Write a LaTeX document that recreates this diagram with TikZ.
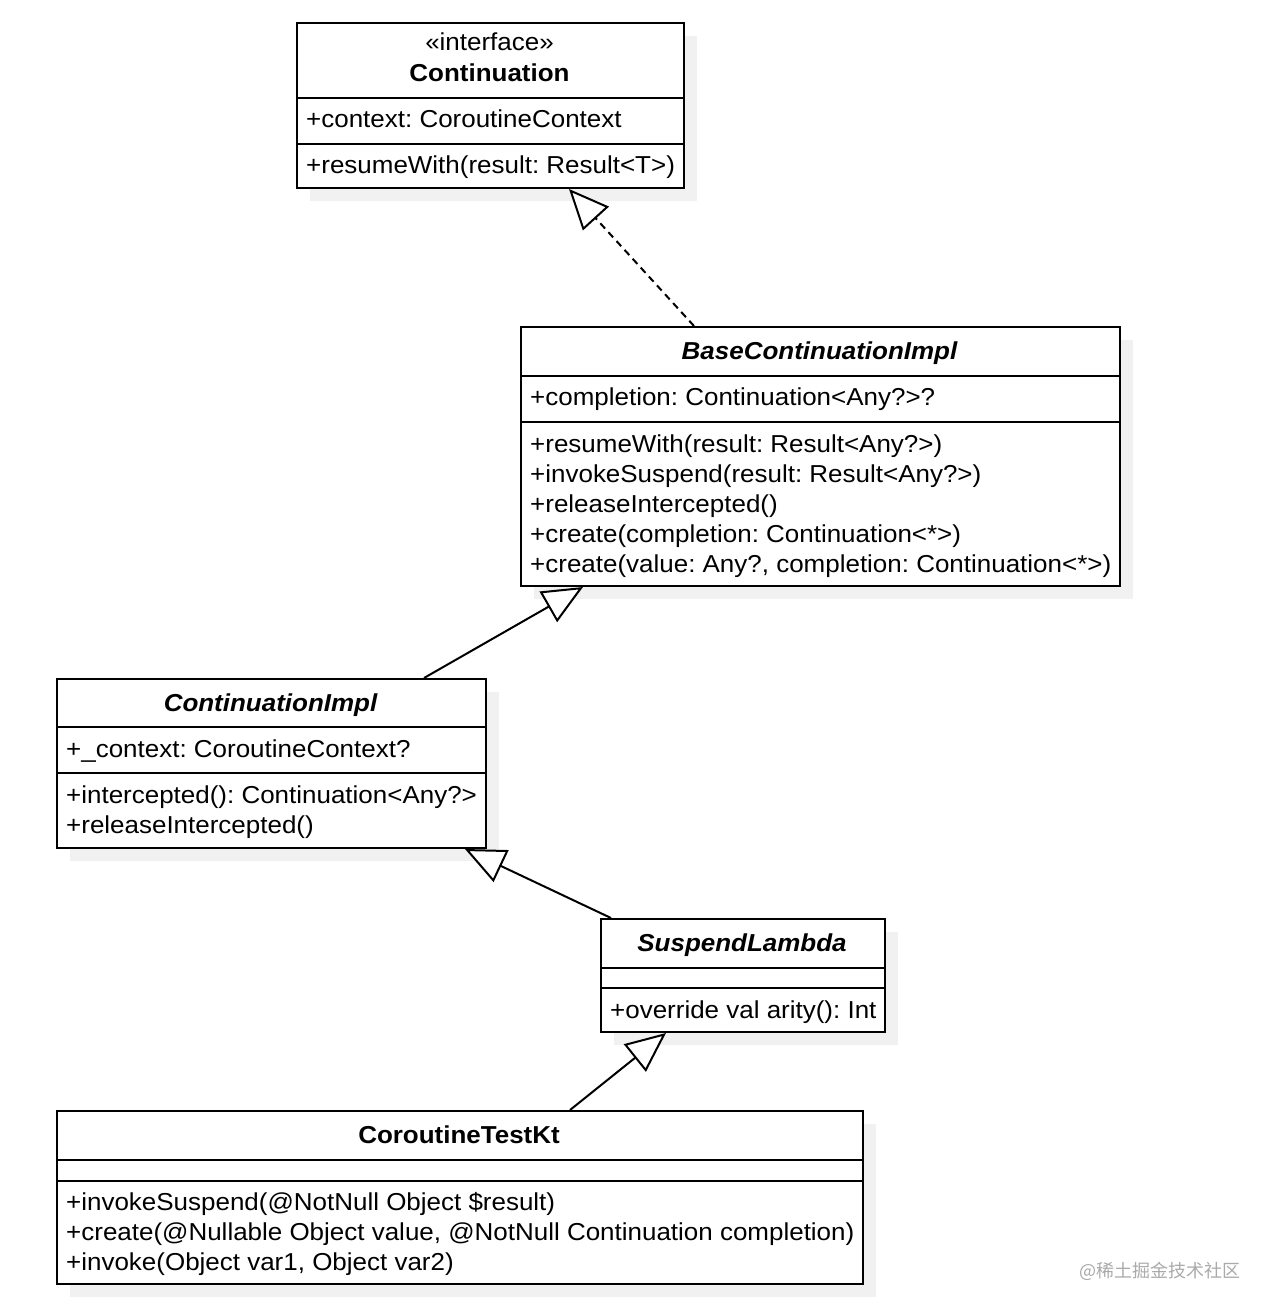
\documentclass[tikz,border=0pt]{standalone}
\usepackage{fontspec}
\setmainfont{Liberation Sans}[FakeStretch=1.06]
\newfontfamily\cjkfont{Noto Sans CJK SC}
\usetikzlibrary{arrows.meta}
\definecolor{shadowgray}{RGB}{241,241,241}
\definecolor{wmgray}{RGB}{170,170,170}
\frenchspacing
\begin{document}
\begin{tikzpicture}[x=1pt,y=-1pt,
  umlbox/.style={draw=black,line width=2pt,rectangle,inner sep=0pt,anchor=north west},
  txt/.style={anchor=base west,inner sep=0pt,font=\fontsize{24.5}{30}\selectfont},
  ctxt/.style={anchor=base,inner sep=0pt,font=\fontsize{24.5}{30}\selectfont},
  ttl/.style={anchor=base,inner sep=0pt,font=\fontsize{24.5}{30}\selectfont\bfseries\itshape},
  divider/.style={line width=2pt},
  gen/.style={line width=2pt,-{Triangle[fill=white,length=40pt,width=35pt,line width=2pt]}},
  real/.style={gen,dash pattern=on 7pt off 5pt}]
\fill[white] (0,0) rectangle (1274,1314);
\useasboundingbox (0,0) rectangle (1274,1314);
% shadows
\fill[shadowgray] (310,36) rectangle (697,201);
\fill[shadowgray] (534,340) rectangle (1133,599);
\fill[shadowgray] (70,692) rectangle (499,861);
\fill[shadowgray] (614,932) rectangle (898,1045);
\fill[shadowgray] (70,1124) rectangle (876,1297);
% boxes
\node[umlbox,fill=white,minimum width=387pt,minimum height=165pt] (cont) at (296,22) {};
\node[umlbox,fill=white,minimum width=599pt,minimum height=259pt] (base) at (520,326) {};
\node[umlbox,fill=white,minimum width=429pt,minimum height=169pt] (impl) at (56,678) {};
\node[umlbox,fill=white,minimum width=284pt,minimum height=113pt] (susp) at (600,918) {};
\node[umlbox,fill=white,minimum width=806pt,minimum height=173pt] (kt) at (56,1110) {};
% dividers
\draw[divider] (296,98) -- (683,98);
\draw[divider] (296,144) -- (683,144);
\draw[divider] (520,376) -- (1119,376);
\draw[divider] (520,422) -- (1119,422);
\draw[divider] (56,727) -- (485,727);
\draw[divider] (56,773) -- (485,773);
\draw[divider] (600,967.5) -- (884,967.5);
\draw[divider] (600,988) -- (884,988);
\draw[divider] (56,1160) -- (862,1160);
\draw[divider] (56,1180.5) -- (862,1180.5);
% Continuation
\node[ctxt] (c0) at (489.5,51) {«interface»};
\node[ctxt,font=\fontsize{24.5}{30}\selectfont\bfseries] (c1) at (489.5,81.5) {Continuation};
\node[txt] (c2) at (306,127.5) {+context: CoroutineContext};
\node[txt] (c3) at (306,173) {+resumeWith(result: Result<T>)};
% BaseContinuationImpl
\node[ttl] (b0) at (819.5,359) {BaseContinuationImpl};
\node[txt] (b1) at (530,405) {+completion: Continuation<Any?>?};
\node[txt] (b2) at (530,452) {+resumeWith(result: Result<Any?>)};
\node[txt] (b3) at (530,482) {+invokeSuspend(result: Result<Any?>)};
\node[txt] (b4) at (530,512) {+releaseIntercepted()};
\node[txt] (b5) at (530,542) {+create(completion: Continuation<*>)};
\node[txt] (b6) at (530,572) {+create(value: Any?, completion: Continuation<*>)};
% ContinuationImpl
\node[ttl] (i0) at (270.5,711) {ContinuationImpl};
\node[txt] (i1) at (66,757) {+\_context: CoroutineContext?};
\node[txt] (i2) at (66,803) {+intercepted(): Continuation<Any?>};
\node[txt] (i3) at (66,833) {+releaseIntercepted()};
% SuspendLambda
\node[ttl] (s0) at (742,951.5) {SuspendLambda};
\node[txt] (s1) at (610,1018) {+override val arity(): Int};
% CoroutineTestKt
\node[ctxt,font=\fontsize{24.5}{30}\selectfont\bfseries] (k0) at (459,1143.5) {CoroutineTestKt};
\node[txt] (k1) at (66,1210) {+invokeSuspend(@NotNull Object \$result)};
\node[txt] (k2) at (66,1240) {+create(@Nullable Object value, @NotNull Continuation completion)};
\node[txt] (k3) at (66,1270) {+invoke(Object var1, Object var2)};
% connectors
\draw[real] ([xshift=174pt]base.north west) -- ([xshift=273pt]cont.south west);
\draw[gen] ([xshift=368pt]impl.north west) -- ([xshift=63pt]base.south west);
\draw[gen] ([xshift=11pt]susp.north west) -- ([xshift=409pt]impl.south west);
\draw[gen] ([xshift=514pt]kt.north west) -- ([xshift=66pt]susp.south west);
% watermark
\node[anchor=center,inner sep=0pt,text=wmgray,font=\cjkfont\fontsize{18}{21}\selectfont] (wm) at (1160,1271) {@稀土掘金技术社区};
\end{tikzpicture}
\end{document}
